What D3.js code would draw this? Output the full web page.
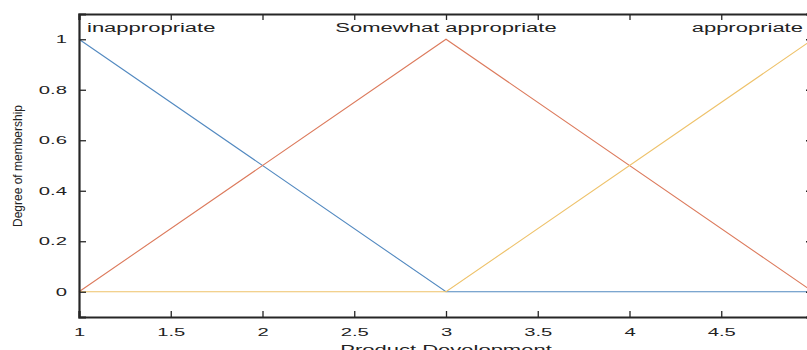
<!DOCTYPE html>
<html>
<head>
<meta charset="utf-8">
<script src="https://cdn.jsdelivr.net/npm/d3@7"></script>
<style>
  body { margin: 0; background: #fff; overflow: hidden; }
  svg { display: block; }
  text { font-family: "Liberation Sans", Arial, Helvetica, sans-serif; fill: #222; }
</style>
</head>
<body>
<div class="chart"></div>
<script>
// membership functions (x breakpoints, y values)
var xPoints = [1, 3, 5];
var inappropriate = [1, 0, 0];
var somewhat = [0, 1, 0];
var appropriate = [0, 0, 1];
var seriesNames = ["inappropriate", "Somewhat appropriate", "appropriate"];
var seriesColors = ["#5289c0", "#dc7a5c", "#eec26a"];
var xTicks = [1, 1.5, 2, 2.5, 3, 3.5, 4, 4.5, 5];
var yTicks = [0, 0.2, 0.4, 0.6, 0.8, 1];

var svgWidth = 807;
var svgHeight = 350;

var margin = { top: 14, right: 0, bottom: 33, left: 79 };
// plot box runs past the right edge of the picture (cropped)
var width = 813 - margin.left;
var height = 317 - margin.top;

// the source picture is stretched sideways, so text is widened
var stretch = 1.76;
function widen(sel) {
  sel.each(function() {
    var w = this.getComputedTextLength();
    d3.select(this)
      .attr("textLength", w * stretch)
      .attr("lengthAdjust", "spacingAndGlyphs");
  });
}

var svg = d3.select(".chart")
  .append("svg")
  .attr("width", svgWidth)
  .attr("height", svgHeight);

var chartGroup = svg.append("g")
  .attr("transform", `translate(${margin.left}, ${margin.top})`);

var xScale = d3.scaleLinear().domain([1, 5]).range([0, width]);
var yScale = d3.scaleLinear().domain([-0.1, 1.1]).range([height, 0]);

// lines
var allSeries = [inappropriate, somewhat, appropriate];
var line = d3.line()
  .x(d => xScale(d[0]))
  .y(d => yScale(d[1]));

allSeries.forEach((vals, i) => {
  chartGroup.append("path")
    .datum(xPoints.map((x, j) => [x, vals[j]]))
    .attr("fill", "none")
    .attr("stroke", seriesColors[i])
    .attr("stroke-width", 1.1)
    .attr("d", line);
});

// axes, ticks inside like matlab
var bottomAxis = d3.axisBottom(xScale).tickValues(xTicks).tickSize(-6).tickPadding(11).tickFormat(d3.format("~g"));
var topAxis = d3.axisTop(xScale).tickValues(xTicks).tickSize(-6).tickFormat("");
var leftAxis = d3.axisLeft(yScale).tickValues(yTicks).tickSize(-7).tickPadding(12).tickFormat(d3.format("~g"));
var rightAxis = d3.axisRight(yScale).tickValues(yTicks).tickSize(-7).tickFormat("");

chartGroup.append("g").attr("class", "axis").attr("transform", `translate(0, ${height})`).call(bottomAxis);
chartGroup.append("g").attr("class", "axis").call(topAxis);
chartGroup.append("g").attr("class", "axis").call(leftAxis);
chartGroup.append("g").attr("class", "axis").attr("transform", `translate(${width}, 0)`).call(rightAxis);

chartGroup.selectAll(".axis .domain")
  .attr("stroke", "#262626")
  .attr("stroke-width", 2.2);
chartGroup.selectAll(".axis .tick line")
  .attr("stroke", "#262626")
  .attr("stroke-width", 1.3);
chartGroup.selectAll(".axis text")
  .attr("font-size", "11.5px")
  .attr("fill", "#222")
  .attr("font-family", "'Liberation Sans', Arial, sans-serif")
  .call(widen);

// series names at the top
chartGroup.append("text")
  .attr("x", 8).attr("y", 18)
  .attr("font-size", "12.5px")
  .text(seriesNames[0])
  .call(widen);
chartGroup.append("text")
  .attr("x", xScale(3)).attr("y", 18)
  .attr("text-anchor", "middle")
  .attr("font-size", "12.5px")
  .text(seriesNames[1])
  .call(widen);
chartGroup.append("text")
  .attr("x", xScale(5) - 10).attr("y", 18)
  .attr("text-anchor", "end")
  .attr("font-size", "12.5px")
  .text(seriesNames[2])
  .call(widen);

// axis titles
chartGroup.append("text")
  .attr("x", xScale(3)).attr("y", height + 37)
  .attr("text-anchor", "middle")
  .attr("font-size", "12.5px")
  .text("Product Development")
  .call(widen);

svg.append("text")
  .attr("transform", "rotate(-90)")
  .attr("x", -166).attr("y", 22)
  .attr("text-anchor", "middle")
  .attr("font-size", "13px")
  .attr("font-family", "'Liberation Sans Narrow', 'DejaVu Sans Condensed', sans-serif")
  .attr("textLength", 122)
  .attr("lengthAdjust", "spacingAndGlyphs")
  .text("Degree of membership");
</script>
</body>
</html>
